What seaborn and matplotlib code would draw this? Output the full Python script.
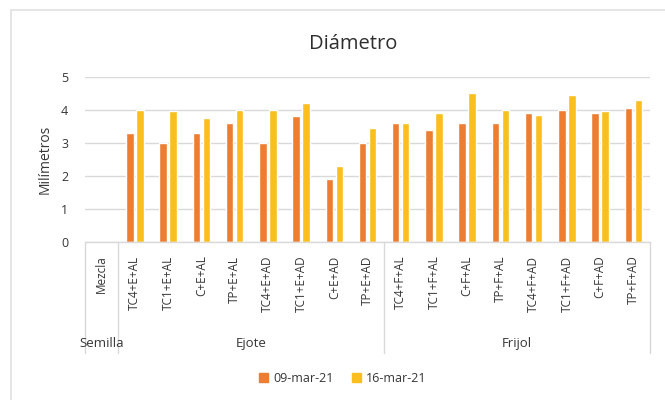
import matplotlib
matplotlib.use("Agg")
import matplotlib.pyplot as plt
import seaborn as sns
import pandas as pd
from matplotlib.patches import Rectangle
from matplotlib.lines import Line2D

# Tratamientos y grupos
tratamientos = ["Mezcla",
                "TC4+E+AL", "TC1+E+AL", "C+E+AL", "TP+E+AL",
                "TC4+E+AD", "TC1+E+AD", "C+E+AD", "TP+E+AD",
                "TC4+F+AL", "TC1+F+AL", "C+F+AL", "TP+F+AL",
                "TC4+F+AD", "TC1+F+AD", "C+F+AD", "TP+F+AD"]
grupos = ["Semilla", "Ejote", "Frijol"]
grupo_tamanos = [1, 8, 8]
fechas = ["09-mar-21", "16-mar-21"]

# Diámetro (mm) por fecha
diam_09mar = [0, 3.3, 3.0, 3.3, 3.6, 3.0, 3.8, 1.9, 3.0,
              3.6, 3.4, 3.6, 3.6, 3.9, 4.0, 3.9, 4.05]
diam_16mar = [0, 4.0, 3.95, 3.75, 4.0, 4.0, 4.2, 2.3, 3.45,
              3.6, 3.9, 4.5, 4.0, 3.85, 4.45, 3.95, 4.3]

colores = ["#ED7D31", "#FABF1E"]
texto = "#363636"
gris = "#D9D9D9"

df = pd.DataFrame({
    "Tratamiento": tratamientos * 2,
    "Fecha": [fechas[0]] * len(tratamientos) + [fechas[1]] * len(tratamientos),
    "Milímetros": diam_09mar + diam_16mar,
})

sns.set_theme(style="white")
plt.rcParams["font.family"] = ["Open Sans", "DejaVu Sans"]

fig = plt.figure(figsize=(6.65, 4.0), dpi=100)
ax = fig.add_axes([85 / 665, 1 - 241.7 / 400, 565 / 665, 165 / 400])

sns.barplot(data=df, x="Tratamiento", y="Milímetros", hue="Fecha",
            order=tratamientos, hue_order=fechas, palette=colores,
            width=0.6, gap=0.25, saturation=1, ax=ax, legend=False)

ax.set_ylim(0, 5)
ax.set_xlim(-0.5, len(tratamientos) - 0.5)
ax.set_yticks(range(6))
ax.yaxis.grid(True, color=gris, linewidth=1)
ax.set_axisbelow(True)
for s in ["top", "right", "left"]:
    ax.spines[s].set_visible(False)
ax.spines["bottom"].set_color(gris)
ax.spines["bottom"].set_linewidth(1)

ax.tick_params(axis="y", length=0, pad=12, labelsize=9, labelcolor=texto)
ax.tick_params(axis="x", length=0, pad=10, labelsize=8.5, labelcolor=texto)
ax.set_xticks(range(len(tratamientos)))
ax.set_xticklabels(tratamientos, rotation=90, va="top", ha="center")
ax.set_xlabel("")
ax.set_ylabel("Milímetros", fontsize=10, color=texto, labelpad=6)

# Separadores y nombres de grupos bajo el eje
trans = ax.get_xaxis_transform()
inicio = -0.5
bordes = [inicio]
for n in grupo_tamanos:
    bordes.append(bordes[-1] + n)
for b in bordes:
    ax.add_line(Line2D([b, b], [0, -0.675], transform=trans, color=gris,
                       linewidth=1, clip_on=False))
for g, a, b in zip(grupos, bordes[:-1], bordes[1:]):
    ax.text((a + b) / 2, -0.615, g, transform=trans, ha="center", va="center",
            fontsize=9.5, color=texto)

fig.text(353 / 665, 1 - 44 / 400, "Diámetro", ha="center", va="center",
         fontsize=14.5, color="#2E2E2E")

handles = [Rectangle((0, 0), 1, 1, color=c) for c in colores]
fig.legend(handles, fechas, loc="center", bbox_to_anchor=(343 / 665, 1 - 378 / 400),
           ncol=2, frameon=False, fontsize=9, labelcolor=texto,
           handlelength=0.7, handleheight=0.7, handletextpad=0.4, columnspacing=1.5)

fig.add_artist(Rectangle((11 / 665, -0.05), 1.1, 1 - 10 / 400 + 0.05,
                         transform=fig.transFigure, fill=False,
                         edgecolor="#E0E0E0", linewidth=1.2))

fig.savefig("out.png", dpi=100, facecolor="white")
